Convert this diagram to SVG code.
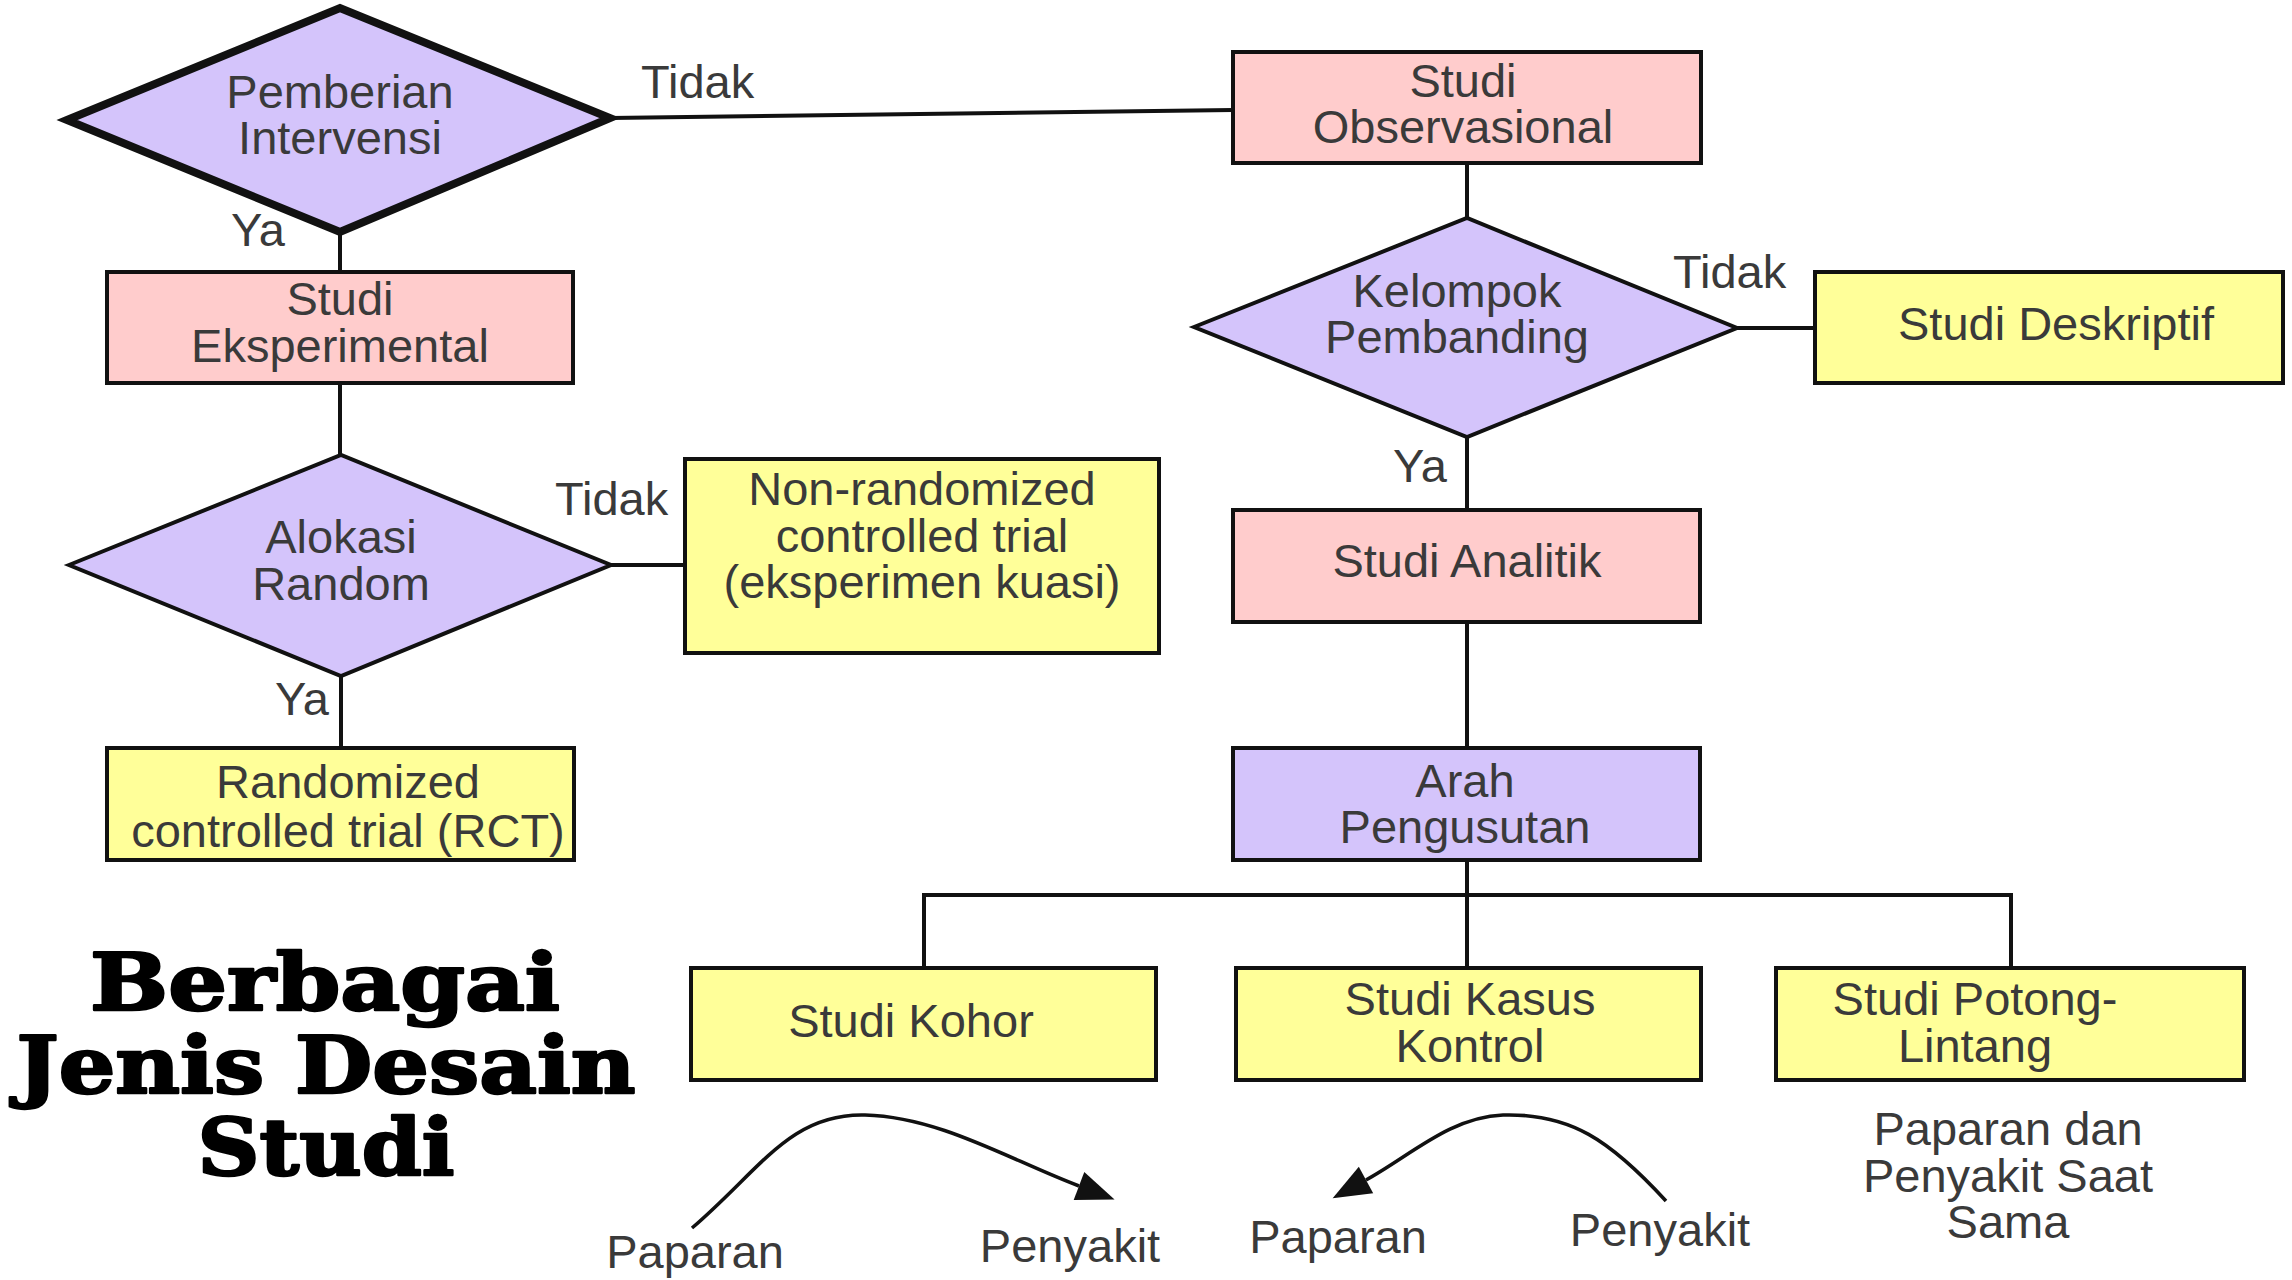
<svg xmlns="http://www.w3.org/2000/svg" width="2292" height="1280" viewBox="0 0 2292 1280">
  <style>
    .box { stroke: #111; stroke-width: 4; }
    .pink { fill: #FFCCCC; }
    .lav { fill: #D4C4FB; }
    .yel { fill: #FFFF99; }
    .dia { fill: #D4C4FB; stroke: #111; stroke-width: 4; stroke-linejoin: miter; }
    .lbl { font-family: "Liberation Sans", Arial, sans-serif; font-size: 47px; fill: #3a3a3a; text-anchor: middle; }
    .edge-lbl { font-family: "Liberation Sans", Arial, sans-serif; font-size: 47px; fill: #3a3a3a; }
    .wire { stroke: #111; stroke-width: 4; fill: none; }
    .curve { stroke: #111; stroke-width: 3.5; fill: none; marker-end: url(#head); }
    .title { font-family: "DejaVu Serif", "Liberation Serif", serif; font-weight: bold; font-size: 78px; fill: #000; stroke: #000; stroke-width: 2.5; stroke-linejoin: round; text-anchor: middle; }
  </style>
  <defs>
    <marker id="head" markerUnits="userSpaceOnUse" viewBox="0 -16 40 32" refX="0" refY="0" markerWidth="40" markerHeight="32" orient="auto" overflow="visible">
      <path d="M0,-15 L38,0 L0,15 z" fill="#111"/>
    </marker>
  </defs>

  <rect width="2292" height="1280" fill="#fff"/>

  <!-- connectors and their yes/no labels -->
  <g id="connectors">
    <line class="wire" x1="610" y1="118" x2="1233" y2="110"/>
    <line class="wire" x1="340" y1="232" x2="340" y2="272"/>
    <line class="wire" x1="340" y1="383" x2="340" y2="455"/>
    <line class="wire" x1="611" y1="565" x2="685" y2="565"/>
    <line class="wire" x1="341" y1="676" x2="341" y2="748"/>
    <line class="wire" x1="1467" y1="163" x2="1467" y2="218"/>
    <line class="wire" x1="1737" y1="328" x2="1815" y2="328"/>
    <line class="wire" x1="1467" y1="437" x2="1467" y2="510"/>
    <line class="wire" x1="1467" y1="622" x2="1467" y2="748"/>
    <line class="wire" x1="1467" y1="860" x2="1467" y2="968"/>
    <polyline class="wire" points="924,968 924,895 2011,895 2011,968"/>

    <text class="edge-lbl" x="641" y="98">Tidak</text>
    <text class="edge-lbl" x="231" y="246">Ya</text>
    <text class="edge-lbl" x="555" y="515">Tidak</text>
    <text class="edge-lbl" x="275" y="715">Ya</text>
    <text class="edge-lbl" x="1673" y="288">Tidak</text>
    <text class="edge-lbl" x="1393" y="482">Ya</text>

    <!-- exposure / disease direction arrows -->
    <path class="curve" d="M692,1228 C760,1170 790,1113 865,1115 C940,1117 1010,1160 1079,1186"/>
    <path class="curve" d="M1666,1201 C1610,1140 1570,1113 1503,1115 C1450,1117 1410,1156 1366,1180"/>
  </g>

  <!-- left branch: experimental -->
  <g id="pemberian-intervensi">
    <polygon class="dia" style="stroke-width:8" points="67,120 340,8 610,118 340,232"/>
    <text class="lbl" x="340" y="108">Pemberian</text>
    <text class="lbl" x="340" y="154">Intervensi</text>
  </g>
  <g id="studi-eksperimental">
    <rect class="box pink" x="107" y="272" width="466" height="111"/>
    <text class="lbl" x="340" y="315">Studi</text>
    <text class="lbl" x="340" y="362">Eksperimental</text>
  </g>
  <g id="alokasi-random">
    <polygon class="dia" points="69,565 341,455 611,565 341,676"/>
    <text class="lbl" x="341" y="553">Alokasi</text>
    <text class="lbl" x="341" y="600">Random</text>
  </g>
  <g id="non-randomized">
    <rect class="box yel" x="685" y="459" width="474" height="194"/>
    <text class="lbl" x="922" y="505">Non-randomized</text>
    <text class="lbl" x="922" y="552">controlled trial</text>
    <text class="lbl" x="922" y="598">(eksperimen kuasi)</text>
  </g>
  <g id="rct">
    <rect class="box yel" x="107" y="748" width="467" height="112"/>
    <text class="lbl" x="348" y="798">Randomized</text>
    <text class="lbl" x="348" y="847">controlled trial (RCT)</text>
  </g>

  <!-- right branch: observational -->
  <g id="studi-observasional">
    <rect class="box pink" x="1233" y="52" width="468" height="111"/>
    <text class="lbl" x="1463" y="97">Studi</text>
    <text class="lbl" x="1463" y="143">Observasional</text>
  </g>
  <g id="kelompok-pembanding">
    <polygon class="dia" points="1194,327 1467,218 1737,328 1467,437"/>
    <text class="lbl" x="1457" y="307">Kelompok</text>
    <text class="lbl" x="1457" y="353">Pembanding</text>
  </g>
  <g id="studi-deskriptif">
    <rect class="box yel" x="1815" y="272" width="468" height="111"/>
    <text class="lbl" x="2056" y="340">Studi Deskriptif</text>
  </g>
  <g id="studi-analitik">
    <rect class="box pink" x="1233" y="510" width="467" height="112"/>
    <text class="lbl" x="1467" y="577">Studi Analitik</text>
  </g>
  <g id="arah-pengusutan">
    <rect class="box lav" x="1233" y="748" width="467" height="112"/>
    <text class="lbl" x="1465" y="797">Arah</text>
    <text class="lbl" x="1465" y="843">Pengusutan</text>
  </g>
  <g id="studi-kohor">
    <rect class="box yel" x="691" y="968" width="465" height="112"/>
    <text class="lbl" x="911" y="1037">Studi Kohor</text>
    <text class="lbl" x="695" y="1268">Paparan</text>
    <text class="lbl" x="1070" y="1262">Penyakit</text>
  </g>
  <g id="studi-kasus-kontrol">
    <rect class="box yel" x="1236" y="968" width="465" height="112"/>
    <text class="lbl" x="1470" y="1015">Studi Kasus</text>
    <text class="lbl" x="1470" y="1062">Kontrol</text>
    <text class="lbl" x="1338" y="1253">Paparan</text>
    <text class="lbl" x="1660" y="1246">Penyakit</text>
  </g>
  <g id="studi-potong-lintang">
    <rect class="box yel" x="1776" y="968" width="468" height="112"/>
    <text class="lbl" x="1975" y="1015">Studi Potong-</text>
    <text class="lbl" x="1975" y="1062">Lintang</text>
    <text class="lbl" x="2008" y="1145">Paparan dan</text>
    <text class="lbl" x="2008" y="1192">Penyakit Saat</text>
    <text class="lbl" x="2008" y="1238">Sama</text>
  </g>

  <!-- heading -->
  <g id="judul">
    <text class="title" x="325" y="1010" textLength="470" lengthAdjust="spacingAndGlyphs">Berbagai</text>
    <text class="title" x="326" y="1093" textLength="619" lengthAdjust="spacingAndGlyphs">Jenis Desain</text>
    <text class="title" x="326" y="1175" textLength="257" lengthAdjust="spacingAndGlyphs">Studi</text>
  </g>
</svg>
